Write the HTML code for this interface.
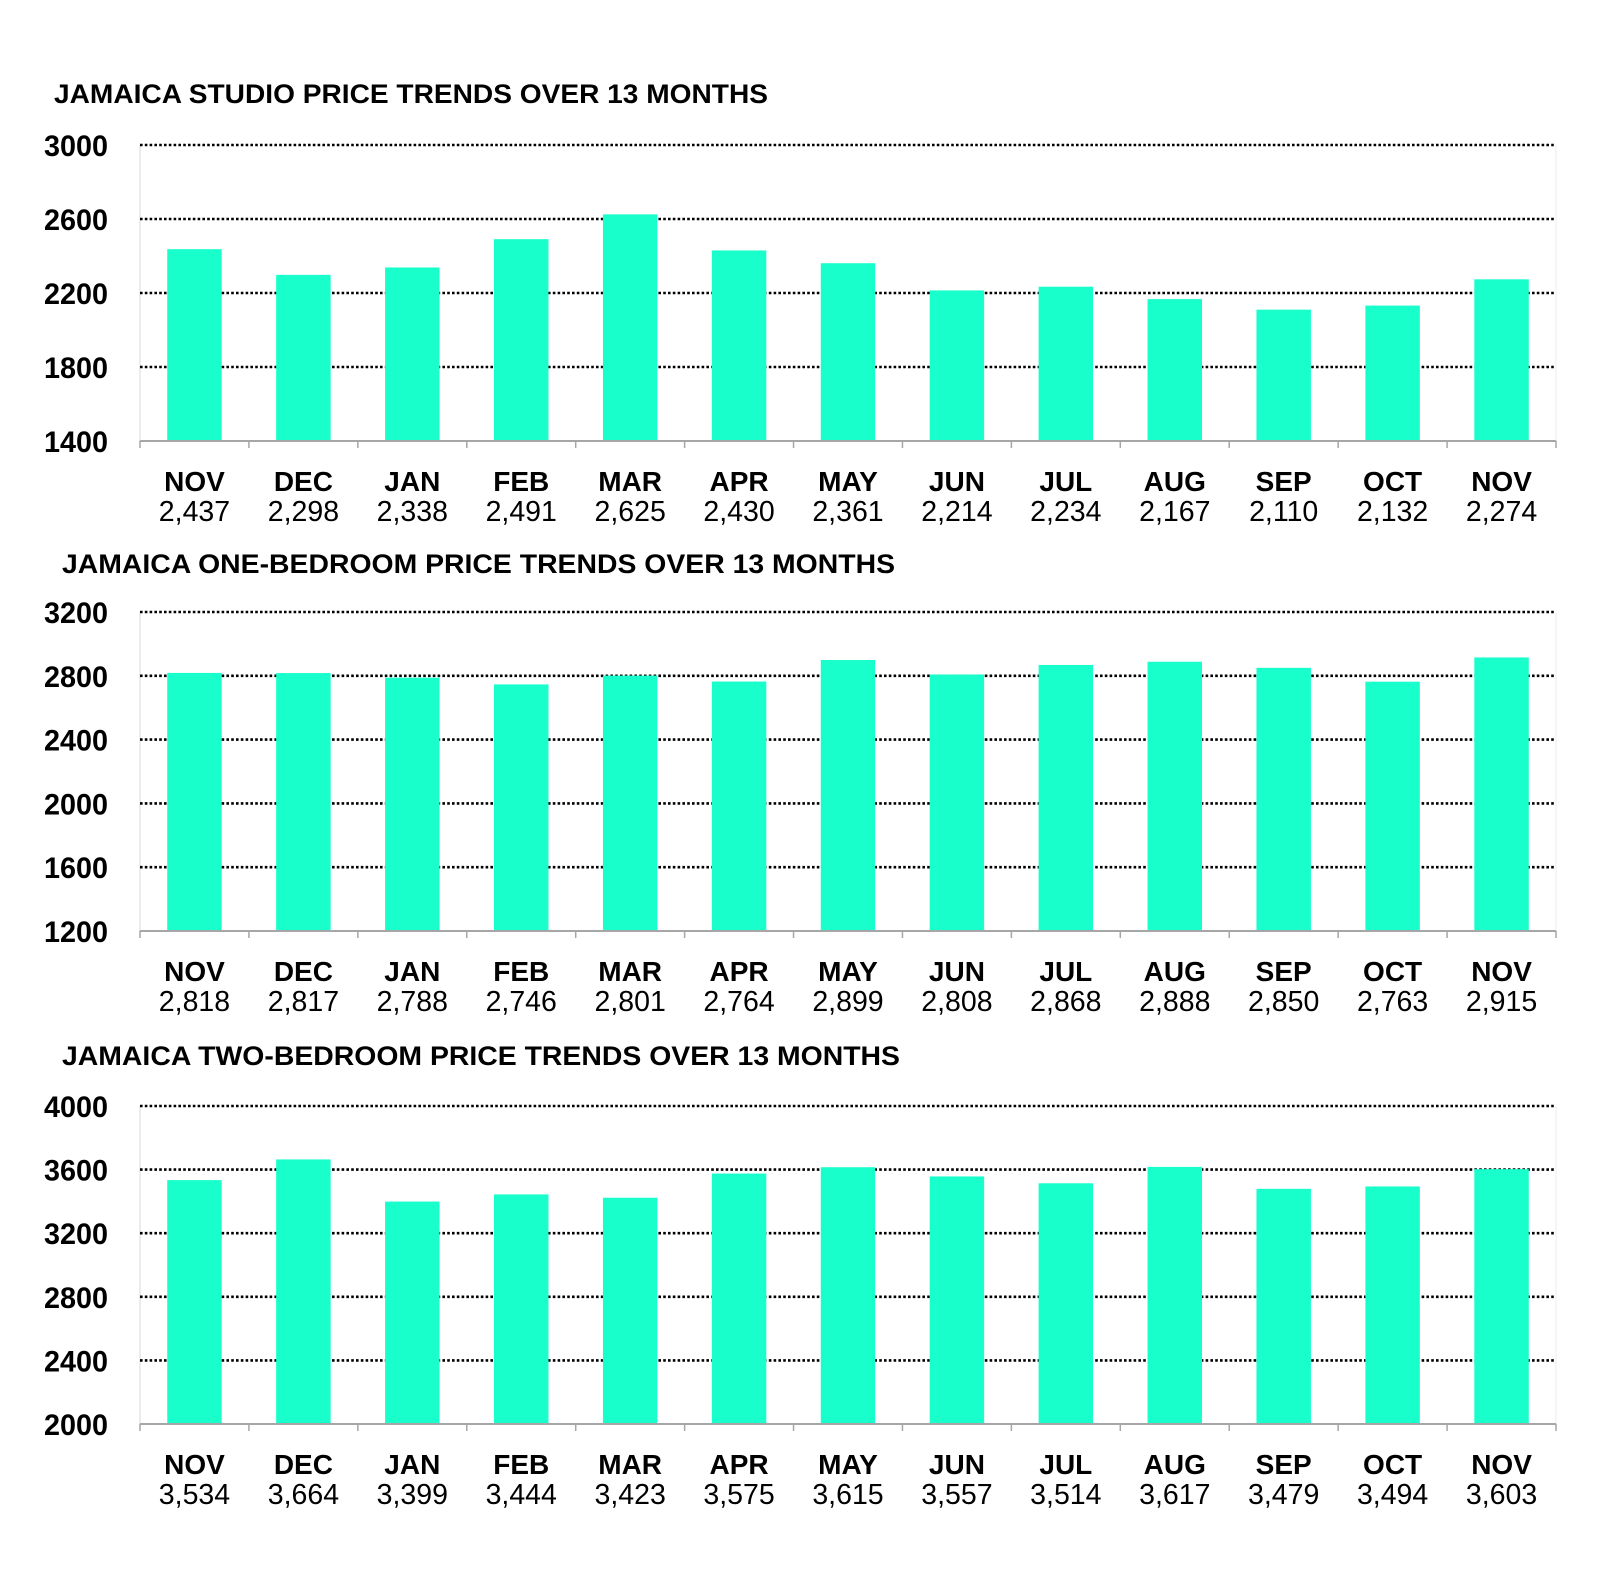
<!DOCTYPE html>
<html><head><meta charset="utf-8"><style>
html,body{margin:0;padding:0;background:#fff;}
svg{display:block;}
</style></head><body>
<svg id="chart" width="1600" height="1592" viewBox="0 0 1600 1592" xmlns="http://www.w3.org/2000/svg"></svg>
<script>
const months = ["NOV","DEC","JAN","FEB","MAR","APR","MAY","JUN","JUL","AUG","SEP","OCT","NOV"];
const studioValues = [2437,2298,2338,2491,2625,2430,2361,2214,2234,2167,2110,2132,2274];
const oneBedValues = [2818,2817,2788,2746,2801,2764,2899,2808,2868,2888,2850,2763,2915];
const twoBedValues = [3534,3664,3399,3444,3423,3575,3615,3557,3514,3617,3479,3494,3603];
const studioTicks = [1400,1800,2200,2600,3000];
const oneBedTicks = [1200,1600,2000,2400,2800,3200];
const twoBedTicks = [2000,2400,2800,3200,3600,4000];
const titles = ["JAMAICA STUDIO PRICE TRENDS OVER 13 MONTHS","JAMAICA ONE-BEDROOM PRICE TRENDS OVER 13 MONTHS","JAMAICA TWO-BEDROOM PRICE TRENDS OVER 13 MONTHS"];

const NS="http://www.w3.org/2000/svg";
const svg=document.getElementById('chart');
function mk(tag,attrs,parent){const e=document.createElementNS(NS,tag);for(const k in attrs)e.setAttribute(k,attrs[k]);(parent||svg).appendChild(e);return e;}

const panels=[
 {name:'studio',title:titles[0],vals:studioValues,ticks:studioTicks,top:145,base:441,titleX:54,titleY:103,titleW:714},
 {name:'one-bedroom',title:titles[1],vals:oneBedValues,ticks:oneBedTicks,top:612,base:931,titleX:62,titleY:573,titleW:833},
 {name:'two-bedroom',title:titles[2],vals:twoBedValues,ticks:twoBedTicks,top:1106,base:1424,titleX:62,titleY:1065,titleW:838}
];
const L=140,R=1556;
panels.forEach(p=>{
 const g=mk('g',{});
 
 
 const t=mk('text',{x:p.titleX,y:p.titleY,'font-family':'Liberation Sans, sans-serif','font-weight':'bold','font-size':27,textLength:p.titleW,lengthAdjust:'spacingAndGlyphs',fill:'#000'},g);
 t.textContent=p.title;
 
 
 const mn=p.ticks[0],mx=p.ticks[p.ticks.length-1];
 const y=v=>p.base-(v-mn)/(mx-mn)*(p.base-p.top);
 const bw=(R-L)/months.length;
 const x=i=>L+i*bw;
 const la=mk('line',{x1:L,y1:p.top,x2:L,y2:p.base,stroke:'#d9d9d9','stroke-width':1},g);
 
 
 const ra=mk('line',{x1:R,y1:p.top,x2:R,y2:p.base,stroke:'#eeeeee','stroke-width':1},g);
 
 
 p.ticks.forEach(tv=>{
  if(tv!==mn){
   const gl=mk('line',{x1:L,y1:y(tv),x2:R,y2:y(tv),stroke:'#000','stroke-width':2.6,'stroke-dasharray':'2.6 2.2'},g);
   
   
  }
  const tl=mk('text',{x:108,y:y(tv)+11,'text-anchor':'end','font-family':'Liberation Sans, sans-serif','font-weight':'bold','font-size':30,textLength:64,lengthAdjust:'spacingAndGlyphs',fill:'#000'},g);
  tl.textContent=String(tv);
  
  
 });
 p.vals.forEach((v,i)=>{
  const b=mk('rect',{x:x(i)+bw*0.25,y:y(v),width:bw*0.5,height:p.base-y(v),fill:'#19ffcc'},g);
  
  
  const ml=mk('text',{x:x(i)+bw/2,y:p.base+50,'text-anchor':'middle','font-family':'Liberation Sans, sans-serif','font-weight':'bold','font-size':28,fill:'#000'},g);
  ml.textContent=months[i];
  
  
  const vl=mk('text',{x:x(i)+bw/2,y:p.base+80,'text-anchor':'middle','font-family':'Liberation Sans, sans-serif','font-size':28.5,fill:'#000'},g);
  vl.textContent=v.toLocaleString('en-US');
  
  
 });
 for(let i=0;i<=months.length;i++){
  const tk=mk('line',{x1:x(i),y1:p.base,x2:x(i),y2:p.base+7,stroke:'#a6a6a6','stroke-width':1.5},g);
  
  
 }
 const xa=mk('line',{x1:L,y1:p.base,x2:R,y2:p.base,stroke:'#a6a6a6','stroke-width':2},g);
 
 
});
</script>
</body></html>
